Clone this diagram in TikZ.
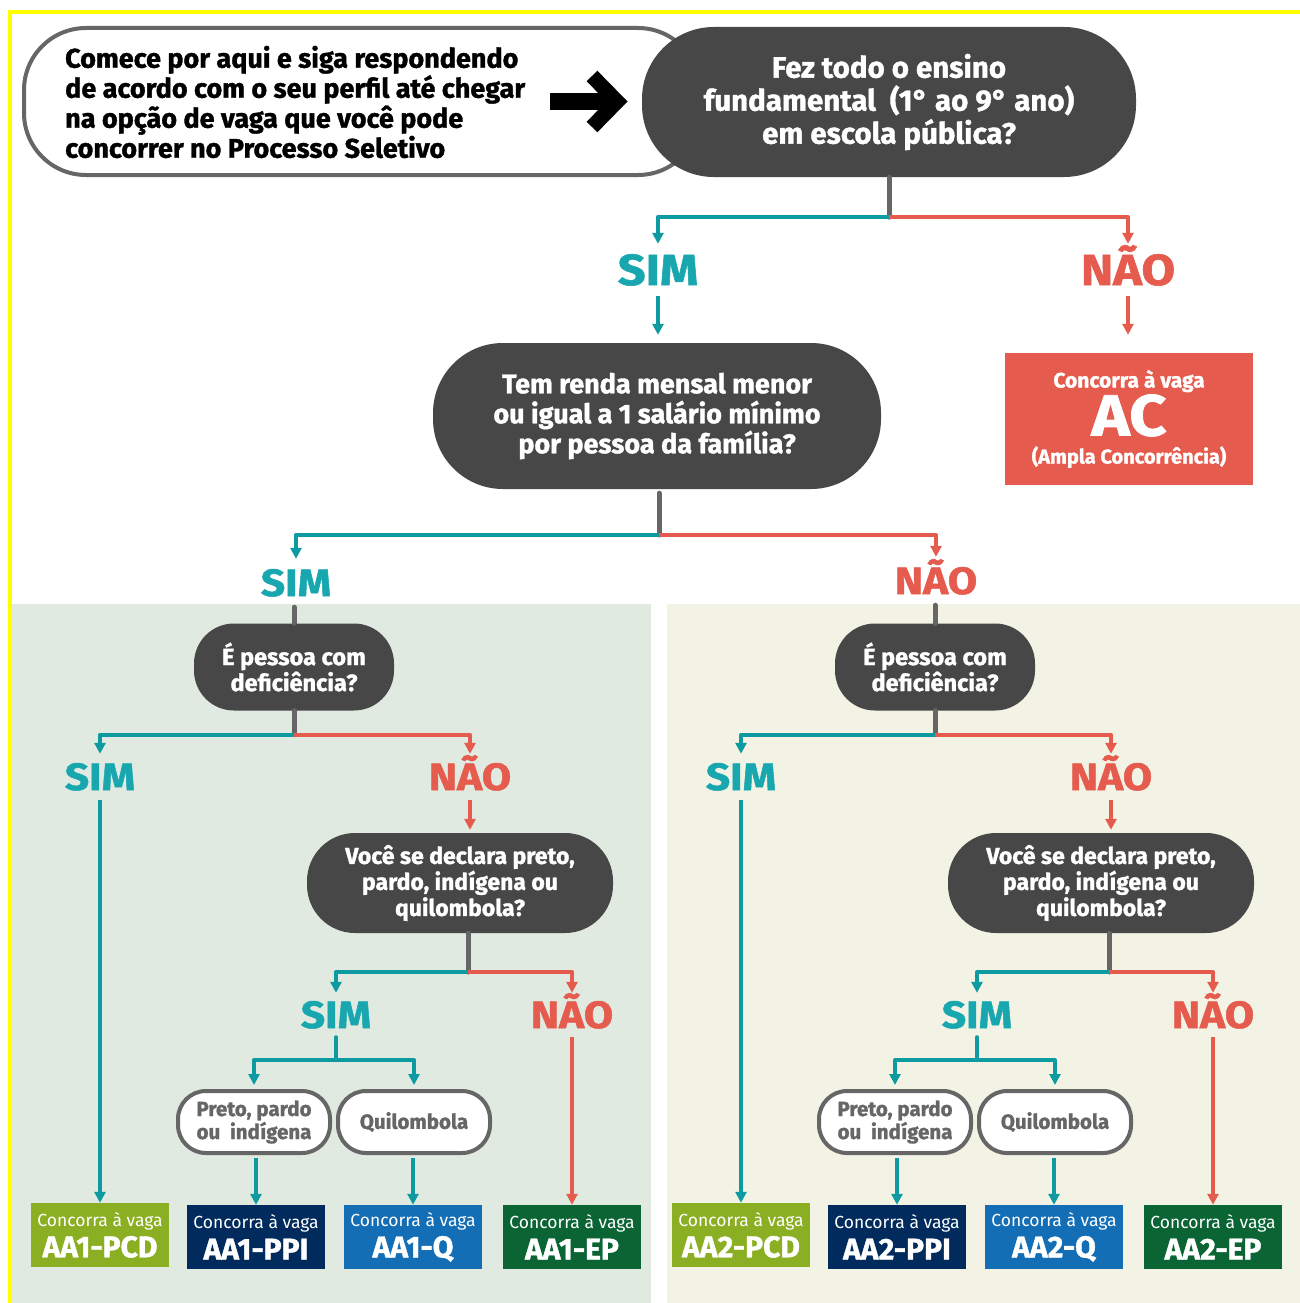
\documentclass[tikz,border=0pt]{standalone}
\usepackage{fontspec}
\setmainfont{Fira Sans}[BoldFeatures={FakeBold=1.3}]
\newfontfamily\labfont{Fira Sans}[FakeStretch=1.12, BoldFeatures={FakeBold=1.3}]
\usetikzlibrary{arrows.meta,calc}
\definecolor{tealc}{HTML}{0E9AA1}
\definecolor{tealt}{HTML}{18A7AF}
\definecolor{redc}{HTML}{E55B4D}
\definecolor{pillc}{HTML}{474747}
\definecolor{connc}{HTML}{666666}
\definecolor{panelL}{HTML}{E0EAE1}
\definecolor{panelR}{HTML}{F2F3E4}
\definecolor{pcdc}{HTML}{8BAF22}
\definecolor{ppic}{HTML}{012B5D}
\definecolor{qc}{HTML}{136EB5}
\definecolor{epc}{HTML}{0A6434}
\definecolor{ylw}{HTML}{FFFF00}
\tikzset{
  pill/.style={fill=pillc, text=white, align=center, inner sep=0pt},
  optpill/.style={draw=connc, line width=4pt, fill=white, text=connc, align=center, inner sep=0pt,
     minimum width=152pt, minimum height=62pt, rounded corners=28pt, font=\fontsize{20.5}{23}\selectfont\bfseries},
  lab/.style 2 args={font=\labfont\fontsize{#1}{#1}\selectfont\bfseries, text height=#2, text depth=0pt, inner sep=0pt},
  simlab/.style 2 args={lab={#1}{#2}, text=tealt},
  naolab/.style 2 args={lab={#1}{#2}, text=redc},
  tealarr/.style={draw=tealc, line width=4pt, line join=round, -{Triangle[length=11pt,width=11pt]}},
  redarr/.style={draw=redc, line width=4pt, line join=round, -{Triangle[length=11pt,width=11pt]}},
  tealln/.style={draw=tealc, line width=4pt, line cap=round},
  grayln/.style={draw=connc, line width=5pt, line cap=round},
  vaga/.style={minimum width=138pt, minimum height=64pt, inner sep=0pt, text=white, align=center, font=\fontsize{17.5}{31}\selectfont},
}
\newcommand\vagatext[1]{Concorra à vaga\\{\bfseries\fontsize{30}{31}\selectfont #1}}
\newcommand\vpanel[3]{%
\begin{scope}[xshift=#2]
  \node[pill, minimum width=200, minimum height=87, rounded corners=40, font=\fontsize{23.5}{26}\selectfont\bfseries] (#1q3) at (294,667) {É pessoa com\\deficiência?};
  \coordinate (#1j3) at ($(#1q3.south)+(0,24)$);
  \node[simlab={38}{26pt}, minimum height=46] (#1sim3) at (100,777) {SIM};
  \node[naolab={38}{26pt}, minimum height=46] (#1nao3) at (470,777) {NÃO};
  \draw[grayln] (#1q3.south) -- (#1j3);
  \draw[tealarr] (#1j3) -| (#1sim3.north);
  \draw[redarr] (#1j3) -| (#1nao3.north);
  \node[pill, minimum width=306, minimum height=100, rounded corners=48, font=\fontsize{23}{26}\selectfont\bfseries] (#1q4) at (460,883) {Você se declara preto,\\pardo, indígena ou\\quilombola?};
  \draw[redarr, shorten >=3] (#1nao3.south) -- (#1nao3.south |- #1q4.north);
  \coordinate (#1j4) at (468,972);
  \draw[grayln] (#1j4 |- #1q4.south) -- (#1j4);
  \node[simlab={38}{26pt}, minimum height=44] (#1sim4) at (336,1015) {SIM};
  \node[naolab={38}{26pt}, minimum height=44] (#1nao4) at (572,1015) {NÃO};
  \draw[tealarr] (#1j4) -| (#1sim4.north);
  \draw[redarr] (#1j4) -| (#1nao4.north);
  \coordinate (#1j5) at (336,1060);
  \node[optpill] (#1p5a) at (254,1122) {Preto, pardo\\ou\ \ indígena};
  \node[optpill] (#1p5b) at (414,1122) {Quilombola};
  \draw[tealln] (#1sim4.south) -- (#1j5);
  \draw[tealarr, shorten >=4] (#1j5) -| (#1p5a.north);
  \draw[tealarr, shorten >=4] (#1j5) -| (#1p5b.north);
  \node[vaga, fill=pcdc] (#1pcd) at (100,1235) {\vagatext{#3-PCD}};
  \node[vaga, fill=ppic] (#1ppi) at (256,1237) {\vagatext{#3-PPI}};
  \node[vaga, fill=qc] (#1q) at (413,1237) {\vagatext{#3-Q}};
  \node[vaga, fill=epc] (#1ep) at (572,1237) {\vagatext{#3-EP}};
  \draw[tealarr] (#1sim3.south) -- (#1pcd.north);
  \draw[tealarr, shorten <=3] (#1ppi.north |- #1p5a.south) -- (#1ppi.north);
  \draw[tealarr, shorten <=3] (#1q.north |- #1p5b.south) -- (#1q.north);
  \draw[redarr] (#1nao4.south) -- (#1ep.north);
\end{scope}}
\begin{document}
\begin{tikzpicture}[x=1pt,y=-1pt]
\useasboundingbox (0,0) rectangle (1300,1303);
\fill[white] (0,0) rectangle (1300,1303);
% panels
\fill[panelL] (11,604) rectangle (651,1303);
\fill[panelR] (667,604) rectangle (1300,1303);
\draw[ylw, line width=4pt] (9.5,1303) -- (9.5,12) -- (1300,12);
% intro
\node[draw=connc, line width=4pt, rounded corners=62, minimum width=676, minimum height=147, inner sep=0] (introframe) at (362,101.5) {};
\node[anchor=west, align=left, font=\fontsize{27}{30}\selectfont\bfseries, inner sep=0] (intro) at (65,102) {Comece por aqui e siga respondendo\\de acordo com o seu perfil até chegar\\na opção de vaga que você pode\\concorrer no Processo Seletivo};
\draw[line width=17pt] (550,101.5) -- (610,101.5);
\draw[line width=15pt, line join=miter] (592,76) -- (617,101.5) -- (592,127);
% level 1
\node[pill, minimum width=494, minimum height=150, rounded corners=72, font=\fontsize{29.5}{33}\selectfont\bfseries] (q1) at (889,102) {Fez todo o ensino\\fundamental\ \ (1° ao 9° ano)\\em escola pública?};
\coordinate (j1) at ($(q1.south)+(0,40)$);
\node[simlab={43.5}{30pt}, minimum height=52] (sim1) at (658,270) {SIM};
\node[naolab={43.5}{30pt}, minimum height=52] (nao1) at (1128,270) {NÃO};
\draw[grayln] (q1.south) -- (j1);
\draw[tealarr] (j1) -| (sim1.north);
\draw[redarr] (j1) -| (nao1.north);
\node[pill, minimum width=448, minimum height=146, rounded corners=70, font=\fontsize{27}{30}\selectfont\bfseries] (q2) at (657,416) {Tem renda mensal menor\\ou igual a 1 salário mínimo\\por pessoa da família?};
\node[fill=redc, minimum width=248, minimum height=132, text=white, align=center, inner sep=0, font=\fontsize{21}{48}\selectfont\bfseries] (ac) at (1129,419) {Concorra à vaga\\{\labfont\bfseries\fontsize{58}{48}\selectfont AC}\\[-20pt]{\fontsize{20}{25}\selectfont (Ampla Concorrência)}};
\draw[tealarr, shorten >=8] (sim1.south) -- (q2.north -| sim1.south);
\draw[redarr, shorten >=18] (nao1.south) -- (ac.north -| nao1.south);
% level 2
\coordinate (j2) at (659,535);
\draw[grayln] (j2 |- q2.south) ++(0,4) -- (j2);
\node[simlab={38}{26pt}, minimum height=48] (sim2) at (296,583) {SIM};
\node[naolab={38}{26pt}, minimum height=48] (nao2) at (936,581) {NÃO};
\draw[tealarr] (j2) -| (sim2.north);
\draw[redarr] (j2) -| (nao2.north);
\vpanel{L}{0}{AA1}
\vpanel{R}{641}{AA2}
\draw[grayln] (Lq3.north |- sim2.south) -- (Lq3.north);
\draw[grayln] (Rq3.north |- nao2.south) -- (Rq3.north);
\end{tikzpicture}
\end{document}
